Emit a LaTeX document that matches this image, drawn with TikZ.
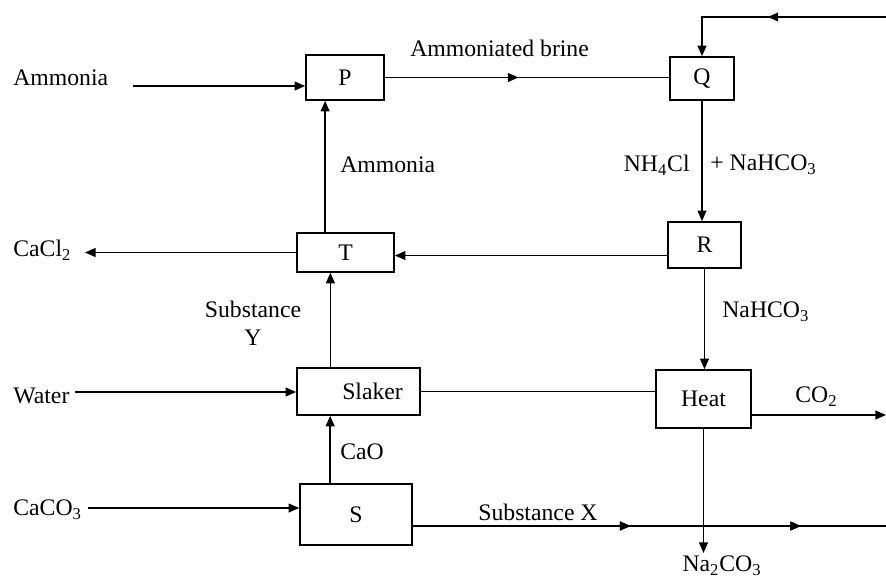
\documentclass[tikz,border=0pt]{standalone}
\usepackage{fontspec}
\setmainfont{Liberation Serif}
\usetikzlibrary{arrows.meta, calc, decorations.markings}
\newcommand{\chsub}[1]{\textsubscript{#1}}

\tikzset{
  unit/.style={draw, line width=0.9pt, inner sep=0pt},
  flow/.style={line width=0.9pt, -{Triangle[length=6pt, width=5pt]}},
  pipe/.style={line width=0.9pt},
  midarrow/.style={decoration={markings, mark=at position #1 with {\arrow{Triangle[length=6pt, width=5pt]}}}, postaction={decorate}},
  lbl/.style={font=\fontsize{13.5}{16}\selectfont, inner sep=0pt},
}

\begin{document}
\begin{tikzpicture}[x=0.02cm, y=-0.02cm, font=\fontsize{13.5}{16}\selectfont]

\useasboundingbox (0,0) rectangle (886,582);

% Units
\node[unit, minimum width=78*0.02cm, minimum height=45*0.02cm] (P) at (345,77.5) {P};
\node[unit, minimum width=64*0.02cm, minimum height=43*0.02cm] (Q) at (702,78.5) {Q};
\node[unit, minimum width=73*0.02cm, minimum height=46*0.02cm] (R) at (704.5,245) {R};
\node[unit, minimum width=97*0.02cm, minimum height=39*0.02cm] (T) at (345.5,252.5) {T};
\node[unit, minimum width=123*0.02cm, minimum height=47*0.02cm] (slaker) at (358.5,391.5) {\hspace*{16pt}Slaker};
\node[unit, minimum width=95*0.02cm, minimum height=58*0.02cm] (heat) at (703.5,399) {Heat};
\node[unit, minimum width=112*0.02cm, minimum height=61*0.02cm] (S) at (356,514.5) {S};

% Free ends
\coordinate (ammIn) at (133,86);
\coordinate (waterIn) at (75,392);
\coordinate (caco3In) at (88,508);
\coordinate (cacl2Out) at (85,249);
\coordinate (topIn) at (886,17);
\coordinate (co2Out) at (886,415);
\coordinate (na2co3Out) at (700,553);
\coordinate (xOut) at (886,526);

% Streams
\draw[flow] (ammIn) -- (ammIn -| P.west);
\draw[pipe, midarrow=0.47] (P.east) -- (P.east -| Q.west);
\draw[flow, midarrow=0.53] (topIn) -- (topIn -| Q.north) -- (Q.north);
\draw[flow] (Q.south) -- (Q.south |- R.north);
\draw[flow] ([yshift=-6pt]R.west) -- ([yshift=-6pt]R.west -| T.east);
\draw[flow] (T.west) -- (T.west -| cacl2Out);
\draw[flow] ([xshift=-11.6pt]T.north) -- ([xshift=-11.6pt]T.north |- P.south);
\draw[flow] ([xshift=-16pt]slaker.north) -- ([xshift=-16pt]slaker.north |- T.south);
\draw[flow] (waterIn) -- (waterIn -| slaker.west);
\draw[flow] ([xshift=-14.7pt]S.north) -- ([xshift=-14.7pt]S.north |- slaker.south);
\draw[flow] (caco3In) -- (caco3In -| S.west);
\draw[pipe] (slaker.east) -- (slaker.east -| heat.west);
\draw[flow] (R.south) -- (R.south |- heat.north);
\draw[flow] (co2Out -| heat.east) -- (co2Out);
\draw[flow] (heat.south) -- (heat.south |- na2co3Out);
\draw[pipe, midarrow=0.46, midarrow=0.82] (xOut -| S.east) -- (xOut);

% Labels
\node[lbl, anchor=west] at (13,78) {Ammonia};
\node[lbl, anchor=west] at (410,48) {Ammoniated brine};
\node[lbl, anchor=east] at (690,165) {NH\chsub{4}Cl};
\node[lbl, anchor=west] at (710,165) {+ NaHCO\chsub{3}};
\node[lbl, anchor=west] at (340,165) {Ammonia};
\node[lbl, anchor=west] at (13,250) {CaCl\chsub{2}};
\node[lbl, align=center] at (253,323) {Substance\\Y};
\node[lbl, anchor=west] at (722,312) {NaHCO\chsub{3}};
\node[lbl, anchor=west] at (13,396) {Water};
\node[lbl, anchor=west] at (795,397) {CO\chsub{2}};
\node[lbl, anchor=west] at (340,452) {CaO};
\node[lbl, anchor=west] at (13,510) {CaCO\chsub{3}};
\node[lbl, anchor=west] at (478,512) {Substance X};
\node[lbl] at (722,566) {Na\chsub{2}CO\chsub{3}};

\end{tikzpicture}
\end{document}
